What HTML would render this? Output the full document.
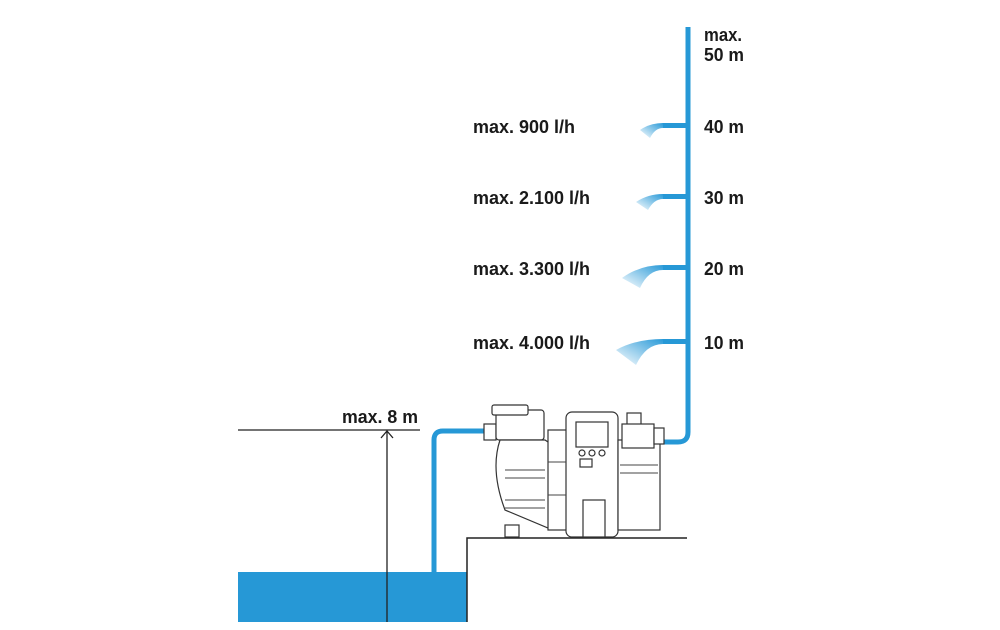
<!DOCTYPE html>
<html><head><style>
body{margin:0;background:#fff}
svg text{font-family:"Liberation Sans",sans-serif;font-weight:bold;font-size:18px;fill:#1a1a1a}
</style></head><body>
<svg width="1000" height="625" viewBox="0 0 1000 625" xmlns="http://www.w3.org/2000/svg">
<defs>
<linearGradient id="sp" x1="1" y1="0" x2="0" y2="1">
<stop offset="0" stop-color="#2a9ad8"/><stop offset="1" stop-color="#2a9ad8" stop-opacity="0"/>
</linearGradient>
</defs>
<rect x="238" y="572" width="229" height="50" fill="#2698d6"/>
<path d="M467 622 V538 H687" fill="none" stroke="#222" stroke-width="1.5"/>
<line x1="238" y1="430" x2="420" y2="430" stroke="#222" stroke-width="1.3"/>
<line x1="387" y1="622" x2="387" y2="432" stroke="#222" stroke-width="1.3"/>
<path d="M381 438 L387 431 L393 438" fill="none" stroke="#222" stroke-width="1.3"/>
<text x="342" y="423" textLength="76" lengthAdjust="spacingAndGlyphs">max. 8 m</text>
<path d="M434 572 V440 Q434 431 443 431 H484" fill="none" stroke="#2698d6" stroke-width="5"/>
<path d="M688 27 V432 Q688 442 678 442 H664" fill="none" stroke="#2698d6" stroke-width="5"/>
<g fill="#2698d6">
<rect x="663" y="123" width="25" height="5"/>
<rect x="663" y="194" width="25" height="5"/>
<rect x="663" y="265" width="25" height="5"/>
<rect x="663" y="339" width="25" height="5"/>
</g>
<g fill="url(#sp)">
<path d="M663 123 Q650 123 640 130 L650 138 Q655 128 663 128Z"/>
<path d="M663 194 Q648 194 636 202 L648 210 Q654 199 663 199Z"/>
<path d="M663 265 Q640 265 622 278 L640 288 Q648 270 663 270Z"/>
<path d="M663 339 Q636 339 616 350 L636 365 Q646 344 663 344Z"/>
</g>
<g>
<text x="704" y="41" textLength="38" lengthAdjust="spacingAndGlyphs">max.</text>
<text x="704" y="61" textLength="40" lengthAdjust="spacingAndGlyphs">50 m</text>
<text x="704" y="133" textLength="40" lengthAdjust="spacingAndGlyphs">40 m</text>
<text x="704" y="204" textLength="40" lengthAdjust="spacingAndGlyphs">30 m</text>
<text x="704" y="275" textLength="40" lengthAdjust="spacingAndGlyphs">20 m</text>
<text x="704" y="349" textLength="40" lengthAdjust="spacingAndGlyphs">10 m</text>
<text x="473" y="133" textLength="102" lengthAdjust="spacingAndGlyphs">max. 900 l/h</text>
<text x="473" y="204" textLength="117" lengthAdjust="spacingAndGlyphs">max. 2.100 l/h</text>
<text x="473" y="275" textLength="117" lengthAdjust="spacingAndGlyphs">max. 3.300 l/h</text>
<text x="473" y="349" textLength="117" lengthAdjust="spacingAndGlyphs">max. 4.000 l/h</text>
</g>
<g fill="#fff" stroke="#333" stroke-width="1.2">
<rect x="484" y="424" width="12" height="16"/>
<rect x="496" y="410" width="48" height="30" rx="3"/>
<rect x="492" y="405" width="36" height="10" rx="2"/>
<path d="M500 440 Q490 470 505 510 L548 528 H560 V450 L545 440Z"/>
<rect x="548" y="430" width="20" height="100"/>
<rect x="566" y="412" width="52" height="125" rx="6"/>
<rect x="576" y="422" width="32" height="25"/>
<circle cx="582" cy="453" r="3"/><circle cx="592" cy="453" r="3"/><circle cx="602" cy="453" r="3"/>
<rect x="580" y="459" width="12" height="8"/>
<rect x="583" y="500" width="22" height="37"/>
<rect x="618" y="440" width="42" height="90"/>
<rect x="627" y="413" width="14" height="12"/>
<rect x="622" y="424" width="32" height="24"/>
<rect x="654" y="428" width="10" height="16"/>
<rect x="505" y="525" width="14" height="12"/>
</g>
<g stroke="#444" stroke-width="1">
<line x1="505" y1="470" x2="545" y2="470"/><line x1="505" y1="478" x2="545" y2="478"/>
<line x1="505" y1="500" x2="545" y2="500"/><line x1="505" y1="508" x2="545" y2="508"/>
<line x1="620" y1="465" x2="658" y2="465"/><line x1="620" y1="473" x2="658" y2="473"/>
<line x1="548" y1="462" x2="566" y2="462"/><line x1="548" y1="495" x2="566" y2="495"/>
</g>
</svg>
</body></html>
